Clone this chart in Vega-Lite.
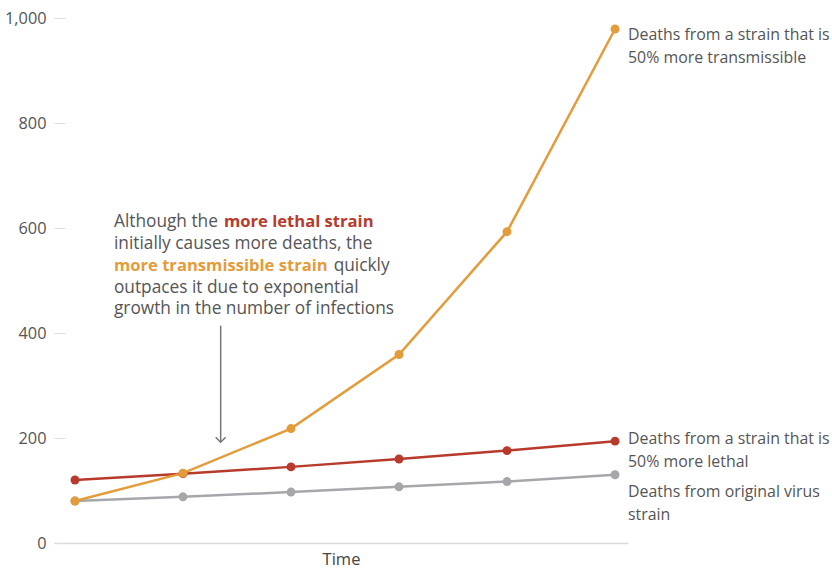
{
  "$schema": "https://vega.github.io/schema/vega-lite/v6.json",
  "width": 574,
  "height": 525,
  "autosize": {"type": "none"},
  "padding": {"left": 54, "top": 18, "right": 204, "bottom": 26},
  "config": {"view": {"stroke": null}, "font": "Open Sans"},
  "datasets": {
    "series": [
      {"series": "Original", "t": 0, "deaths": 80},
      {"series": "Original", "t": 1, "deaths": 88},
      {"series": "Original", "t": 2, "deaths": 97},
      {"series": "Original", "t": 3, "deaths": 107},
      {"series": "Original", "t": 4, "deaths": 117},
      {"series": "Original", "t": 5, "deaths": 130},
      {"series": "Lethal", "t": 0, "deaths": 120},
      {"series": "Lethal", "t": 1, "deaths": 132},
      {"series": "Lethal", "t": 2, "deaths": 145},
      {"series": "Lethal", "t": 3, "deaths": 160},
      {"series": "Lethal", "t": 4, "deaths": 176},
      {"series": "Lethal", "t": 5, "deaths": 194},
      {"series": "Transmissible", "t": 0, "deaths": 80},
      {"series": "Transmissible", "t": 1, "deaths": 133},
      {"series": "Transmissible", "t": 2, "deaths": 218},
      {"series": "Transmissible", "t": 3, "deaths": 359},
      {"series": "Transmissible", "t": 4, "deaths": 593},
      {"series": "Transmissible", "t": 5, "deaths": 979}
    ],
    "labels": [
      {"t": 5, "ly": 982, "text": "Deaths from a strain that is\n50% more transmissible"},
      {"t": 5, "ly": 214, "text": "Deaths from a strain that is\n50% more lethal"},
      {"t": 5, "ly": 113, "text": "Deaths from original virus\nstrain"}
    ],
    "note": [
      {"nx": 0.361, "ny": 601.3, "text": "Although the", "kind": "plain"},
      {"nx": 0.361, "ny": 559.4, "text": "initially causes more deaths, the", "kind": "plain"},
      {"nx": 2.395, "ny": 517.5, "text": "quickly", "kind": "plain"},
      {"nx": 0.361, "ny": 475.6, "text": "outpaces it due to exponential", "kind": "plain"},
      {"nx": 0.361, "ny": 435.6, "text": "growth in the number of infections", "kind": "plain"}
    ],
    "bold": [
      {"nx": 1.38, "ny": 601.3, "text": "more lethal strain", "kind": "lethal"},
      {"nx": 0.361, "ny": 517.5, "text": "more transmissible strain", "kind": "trans"}
    ],
    "arrow": [{"ax": 1.349, "top": 414, "tip": 192}]
  },
  "layer": [
    {
      "data": {"name": "series"},
      "mark": {"type": "line", "strokeWidth": 2.5, "point": {"filled": true, "size": 80, "opacity": 1}},
      "encoding": {
        "x": {
          "field": "t", "type": "quantitative",
          "scale": {"domain": [-0.194, 5.12], "nice": false, "zero": false},
          "axis": {
            "title": "Time", "ticks": false, "labels": false, "grid": false,
            "domain": true, "domainColor": "#d9d9d9", "domainWidth": 1.5,
            "titleFontSize": 16.5, "titleFontWeight": "normal", "titleColor": "#444444", "titlePadding": 8
          }
        },
        "y": {
          "field": "deaths", "type": "quantitative",
          "scale": {"domain": [0, 1000], "nice": false},
          "axis": {
            "title": null, "values": [0, 200, 400, 600, 800, 1000], "format": ",.0f",
            "grid": false, "domain": false, "tickColor": "#dddddd", "tickSize": -11,
            "labelPadding": 19, "labelFontSize": 16.3, "labelColor": "#555555"
          }
        },
        "color": {
          "field": "series", "type": "nominal",
          "scale": {"domain": ["Original", "Lethal", "Transmissible"], "range": ["#A6A7AB", "#B83A2B", "#E49B3A"]},
          "legend": null
        }
      }
    },
    {
      "data": {"name": "labels"},
      "mark": {"type": "text", "align": "left", "baseline": "top", "dx": 13, "fontSize": 15.9, "lineHeight": 23, "lineBreak": "\n", "color": "#555555"},
      "encoding": {
        "x": {"field": "t", "type": "quantitative"},
        "y": {"field": "ly", "type": "quantitative"},
        "text": {"field": "text"}
      }
    },
    {
      "data": {"name": "note"},
      "mark": {"type": "text", "align": "left", "baseline": "alphabetic", "fontSize": 17.3, "color": "#555555"},
      "encoding": {
        "x": {"field": "nx", "type": "quantitative"},
        "y": {"field": "ny", "type": "quantitative"},
        "text": {"field": "text"}
      }
    },
    {
      "data": {"name": "bold"},
      "mark": {"type": "text", "align": "left", "baseline": "alphabetic", "fontSize": 16.6, "fontWeight": "bold"},
      "encoding": {
        "x": {"field": "nx", "type": "quantitative"},
        "y": {"field": "ny", "type": "quantitative"},
        "text": {"field": "text"},
        "color": {
          "condition": {"test": "datum.kind === 'lethal'", "value": "#B83A2B"},
          "value": "#E49B3A"
        }
      }
    },
    {
      "data": {"name": "arrow"},
      "mark": {"type": "rule", "color": "#777777", "strokeWidth": 1.5},
      "encoding": {
        "x": {"field": "ax", "type": "quantitative"},
        "y": {"field": "top", "type": "quantitative"},
        "y2": {"field": "tip"}
      }
    },
    {
      "data": {"name": "arrow"},
      "mark": {"type": "point", "shape": "M-1,-1L0,0L1,-1", "filled": false, "size": 100, "color": "#777777", "strokeWidth": 1.5, "opacity": 1},
      "encoding": {
        "x": {"field": "ax", "type": "quantitative"},
        "y": {"field": "tip", "type": "quantitative"}
      }
    }
  ]
}
